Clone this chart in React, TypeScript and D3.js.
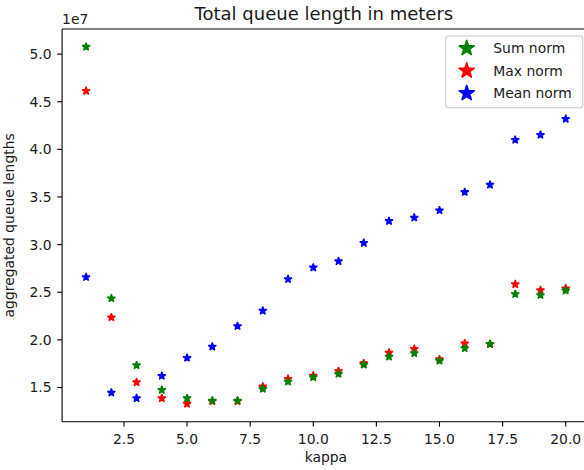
import React from "react";
import * as d3 from "d3";

// kappa values on the x axis
const kappa = [1, 2, 3, 4, 5, 6, 7, 8, 9, 10, 11, 12, 13, 14, 15, 16, 17, 18, 19, 20];

// aggregated queue lengths, in units of 1e7 meters
const sumNorm = [5.076, 2.435, 1.733, 1.474, 1.387, 1.362, 1.362, 1.485, 1.561, 1.607, 1.642, 1.739, 1.823, 1.859, 1.781, 1.911, 1.956, 2.48, 2.469, 2.518];
const maxNorm = [4.613, 2.236, 1.555, 1.387, 1.328, 1.355, 1.355, 1.509, 1.59, 1.624, 1.67, 1.754, 1.865, 1.904, 1.796, 1.963, 1.956, 2.584, 2.521, 2.539];
const meanNorm = [2.658, 1.446, 1.387, 1.621, 1.81, 1.928, 2.144, 2.305, 2.637, 2.759, 2.825, 3.017, 3.247, 3.283, 3.359, 3.551, 3.628, 4.099, 4.152, 4.319];

const xTicks = [2.5, 5, 7.5, 10, 12.5, 15, 17.5, 20];
const yTicks = [1.5, 2.0, 2.5, 3.0, 3.5, 4.0, 4.5, 5.0];

const seriesList = [
  { name: "Sum norm", values: sumNorm, color: "#008000" },
  { name: "Max norm", values: maxNorm, color: "#ff0000" },
  { name: "Mean norm", values: meanNorm, color: "#0000ff" },
];
// red is painted first so the green stars sit on top of it
const drawOrder = [1, 0, 2];

const W = 584;
const H = 470;
const left = 62.1;
const right = 589.7;
const top = 29;
const bottom = 421.7;
const FONT = "DejaVu Sans, sans-serif";
const TEXT = "#1a1a1a";

function padded(lo: number, hi: number): [number, number] {
  const m = (hi - lo) * 0.05;
  return [lo - m, hi + m];
}

// five-pointed star centred at the origin
function starPath(r: number): string {
  const inner = r * 0.381966;
  const pts: [number, number][] = [];
  for (let k = 0; k < 10; k++) {
    const a = -Math.PI / 2 + (k * Math.PI) / 5;
    const rr = k % 2 === 0 ? r : inner;
    pts.push([rr * Math.cos(a), rr * Math.sin(a)]);
  }
  return "M" + pts.map((p) => p[0].toFixed(2) + "," + p[1].toFixed(2)).join("L") + "Z";
}

export default function App() {
  const allVals = [...sumNorm, ...maxNorm, ...meanNorm];
  const x = d3
    .scaleLinear()
    .domain(padded(d3.min(kappa)!, d3.max(kappa)!))
    .range([left, right]);
  const y = d3
    .scaleLinear()
    .domain(padded(d3.min(allVals)!, d3.max(allVals)!))
    .range([bottom, top]);

  const star = starPath(4.17);
  const bigStar = starPath(8.33);
  const cx = (left + right) / 2;
  const cy = (top + bottom) / 2;
  const tickLen = 4.9;

  return (
    <div style={{ position: "fixed", left: 0, top: 0 }}>
      <svg width={W} height={H} style={{ display: "block", background: "#fff" }}>
        <rect x={0} y={0} width={W} height={H} fill="#fff" />

        {/* markers */}
        <g>
          {drawOrder.map((si) => {
            const s = seriesList[si];
            return (
              <g key={s.name}>
                {s.values.map((v, i) => (
                  <path
                    key={i}
                    d={star}
                    transform={`translate(${x(kappa[i])},${y(v)})`}
                    fill={s.color}
                    stroke={s.color}
                    strokeWidth={1.39}
                    strokeLinejoin="bevel"
                  />
                ))}
              </g>
            );
          })}
        </g>

        {/* spines */}
        <g stroke="#000" strokeWidth={1.1} fill="none">
          <line x1={left} y1={top} x2={left} y2={bottom} />
          <line x1={left} y1={bottom} x2={right} y2={bottom} />
          <line x1={left} y1={top} x2={right} y2={top} />
          <line x1={right} y1={top} x2={right} y2={bottom} />
        </g>

        {/* x axis */}
        <g>
          {xTicks.map((t) => (
            <g key={t}>
              <line x1={x(t)} x2={x(t)} y1={bottom} y2={bottom + tickLen} stroke="#000" strokeWidth={1.1} />
              <text x={x(t)} y={444} textAnchor="middle" fontFamily={FONT} fontSize={13.9} fill={TEXT}>
                {t.toFixed(1)}
              </text>
            </g>
          ))}
          <text x={cx} y={462} textAnchor="middle" fontFamily={FONT} fontSize={13.9} fill={TEXT}>
            kappa
          </text>
        </g>

        {/* y axis */}
        <g>
          {yTicks.map((t) => (
            <g key={t}>
              <line x1={left - tickLen} x2={left} y1={y(t)} y2={y(t)} stroke="#000" strokeWidth={1.1} />
              <text
                x={left - 10.5}
                y={y(t)}
                dy="0.36em"
                textAnchor="end"
                fontFamily={FONT}
                fontSize={13.9}
                fill={TEXT}
              >
                {t.toFixed(1)}
              </text>
            </g>
          ))}
          <text
            transform={`translate(14,${cy}) rotate(-90)`}
            textAnchor="middle"
            fontFamily={FONT}
            fontSize={13.9}
            fill={TEXT}
          >
            aggregated queue lengths
          </text>
          <text x={left} y={24} fontFamily={FONT} fontSize={13.9} fill={TEXT}>
            1e7
          </text>
        </g>

        {/* title */}
        <text x={cx - 2} y={19.5} textAnchor="middle" fontFamily={FONT} fontSize={18} fill={TEXT}>
          Total queue length in meters
        </text>

        {/* legend */}
        <g>
          <rect
            x={445.7}
            y={36}
            width={137}
            height={71.7}
            rx={2.8}
            ry={2.8}
            fill="#fff"
            fillOpacity={0.8}
            stroke="#cccccc"
            strokeWidth={1.1}
          />
          {seriesList.map((s, i) => (
            <g key={s.name} transform={`translate(0,${48.3 + i * 22.5})`}>
              <path
                d={bigStar}
                transform="translate(466.7,0)"
                fill={s.color}
                stroke={s.color}
                strokeWidth={1.39}
                strokeLinejoin="bevel"
              />
              <text x={493.3} y={0} dy="0.36em" fontFamily={FONT} fontSize={13.9} fill={TEXT}>
                {s.name}
              </text>
            </g>
          ))}
        </g>
      </svg>
    </div>
  );
}
